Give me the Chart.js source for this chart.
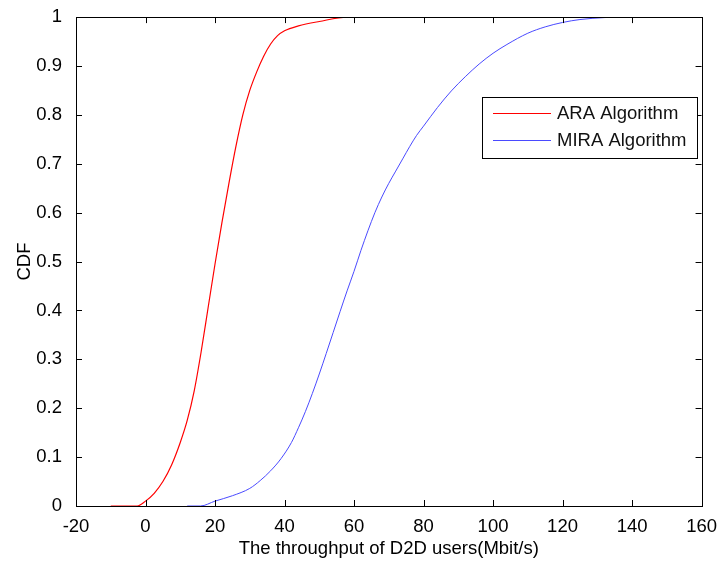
<!DOCTYPE html>
<html>
<head>
<meta charset="utf-8">
<script src="https://cdn.jsdelivr.net/npm/chart.js@4.4.0/dist/chart.umd.min.js"></script>
<style>
  html, body { margin: 0; padding: 0; background: #fff; }
  #wrap { width: 719px; height: 563px; }
</style>
</head>
<body>
<div id="wrap"><canvas id="cdfChart" width="719" height="563"></canvas></div>
<script>
// ===== Data =====
const araX  = [-10, -2.4, 0, 2.5, 5, 7.5, 10, 12, 14, 16, 18, 20, 22, 24, 26, 28, 30, 32, 34, 36, 38, 40, 44, 50, 58, 79];
const araY  = [0, 0, 0.01, 0.026, 0.05, 0.084, 0.13, 0.175, 0.235, 0.315, 0.405, 0.495, 0.58, 0.66, 0.735, 0.8, 0.85, 0.888, 0.92, 0.945, 0.962, 0.972, 0.982, 0.991, 1, 1];
const miraX = [12, 15.8, 20, 25, 30, 33, 36, 39, 42, 44, 46, 48, 50, 52, 54, 56, 58, 60, 62, 64, 66, 68, 70, 72, 74, 76, 78, 80, 84, 88, 92, 96, 100, 104, 110, 115, 120, 125, 132, 136, 148.4];
const miraY = [0, 0, 0.01, 0.021, 0.036, 0.052, 0.072, 0.097, 0.13, 0.16, 0.193, 0.23, 0.27, 0.312, 0.355, 0.398, 0.44, 0.48, 0.523, 0.563, 0.6, 0.632, 0.66, 0.685, 0.71, 0.735, 0.758, 0.777, 0.815, 0.849, 0.878, 0.904, 0.926, 0.944, 0.967, 0.98, 0.989, 0.995, 0.999, 1, 1];

const seriesNames = ['ARA Algorithm', 'MIRA Algorithm'];
const xTicks = [-20, 0, 20, 40, 60, 80, 100, 120, 140, 160];
const yTicks = [0, 0.1, 0.2, 0.3, 0.4, 0.5, 0.6, 0.7, 0.8, 0.9, 1];
const xTitle = 'The throughput of D2D users(Mbit/s)';
const yTitle = 'CDF';

const FONT = "'Liberation Sans', Arial, sans-serif";
const FS = 18.5;

function toPoints(xs, ys) {
    return xs.map((x, i) => ({ x: x, y: ys[i] }));
}

// ===== Box, inward ticks and legend (MATLAB look) =====
const matlabFrame = {
    id: 'matlabFrame',
    afterDatasetsDraw(chart) {
        const { ctx, chartArea: a, scales } = chart;
        const len = 6;
        ctx.save();
        ctx.strokeStyle = '#000';
        ctx.lineWidth = 1;
        ctx.beginPath();
        xTicks.forEach(v => {
            const px = Math.round(scales.x.getPixelForValue(v)) + 0.5;
            ctx.moveTo(px, a.bottom); ctx.lineTo(px, a.bottom - len);
            ctx.moveTo(px, a.top); ctx.lineTo(px, a.top + len);
        });
        yTicks.forEach(v => {
            const py = Math.round(scales.y.getPixelForValue(v)) + 0.5;
            ctx.moveTo(a.left, py); ctx.lineTo(a.left + len, py);
            ctx.moveTo(a.right, py); ctx.lineTo(a.right - len, py);
        });
        ctx.stroke();
        ctx.strokeRect(Math.round(a.left) + 0.5, Math.round(a.top) + 0.5,
                       Math.round(a.right - a.left), Math.round(a.bottom - a.top));

        // legend box
        const bx = 482.5, by = 97.5, bw = 215, bh = 61;
        ctx.fillStyle = '#fff';
        ctx.fillRect(bx, by, bw, bh);
        ctx.strokeRect(bx, by, bw, bh);
        ctx.font = FS + 'px ' + FONT;
        ctx.textBaseline = 'middle';
        chart.data.datasets.forEach((ds, i) => {
            const cy = 113 + i * 27;
            ctx.strokeStyle = ds.borderColor;
            ctx.lineWidth = 1;
            ctx.beginPath();
            ctx.moveTo(493, cy + 0.5); ctx.lineTo(551, cy + 0.5);
            ctx.stroke();
            ctx.fillStyle = '#111';
            ctx.fillText(ds.label, 557, cy + 1);
        });
        ctx.restore();
    }
};

const ctx = document.getElementById('cdfChart').getContext('2d');
const cdfChart = new Chart(ctx, {
    type: 'line',
    data: {
        datasets: [
            { label: seriesNames[0], data: toPoints(araX, araY), borderColor: '#ff0000', borderWidth: 1.2, pointRadius: 0, cubicInterpolationMode: 'monotone', fill: false },
            { label: seriesNames[1], data: toPoints(miraX, miraY), borderColor: '#4a4aff', borderWidth: 1, pointRadius: 0, cubicInterpolationMode: 'monotone', fill: false }
        ]
    },
    options: {
        responsive: false,
        animation: false,
        layout: { padding: { top: 14, right: 16, left: 0, bottom: 0 } },
        plugins: { legend: { display: false }, tooltip: { enabled: false } },
        scales: {
            x: {
                type: 'linear',
                min: -20, max: 160,
                afterBuildTicks: s => { s.ticks = xTicks.map(v => ({ value: v })); },
                afterFit: s => { s.height = 57; },
                grid: { display: false },
                border: { display: false },
                ticks: { color: '#000', font: { family: FONT, size: FS }, padding: 2, maxRotation: 0 },
                title: { display: true, text: xTitle, color: '#000', font: { family: FONT, size: FS }, padding: { top: 0, bottom: 3 } }
            },
            y: {
                type: 'linear',
                min: 0, max: 1,
                afterBuildTicks: s => { s.ticks = yTicks.map(v => ({ value: v })); },
                afterFit: s => { s.width = 76; },
                grid: { display: false },
                border: { display: false },
                ticks: { color: '#000', font: { family: FONT, size: FS }, padding: 6, callback: v => String(Math.round(v * 10) / 10) },
                title: { display: true, text: yTitle, color: '#000', font: { family: FONT, size: FS }, padding: { top: 14, bottom: 0 } }
            }
        }
    },
    plugins: [matlabFrame]
});
</script>
</body>
</html>
